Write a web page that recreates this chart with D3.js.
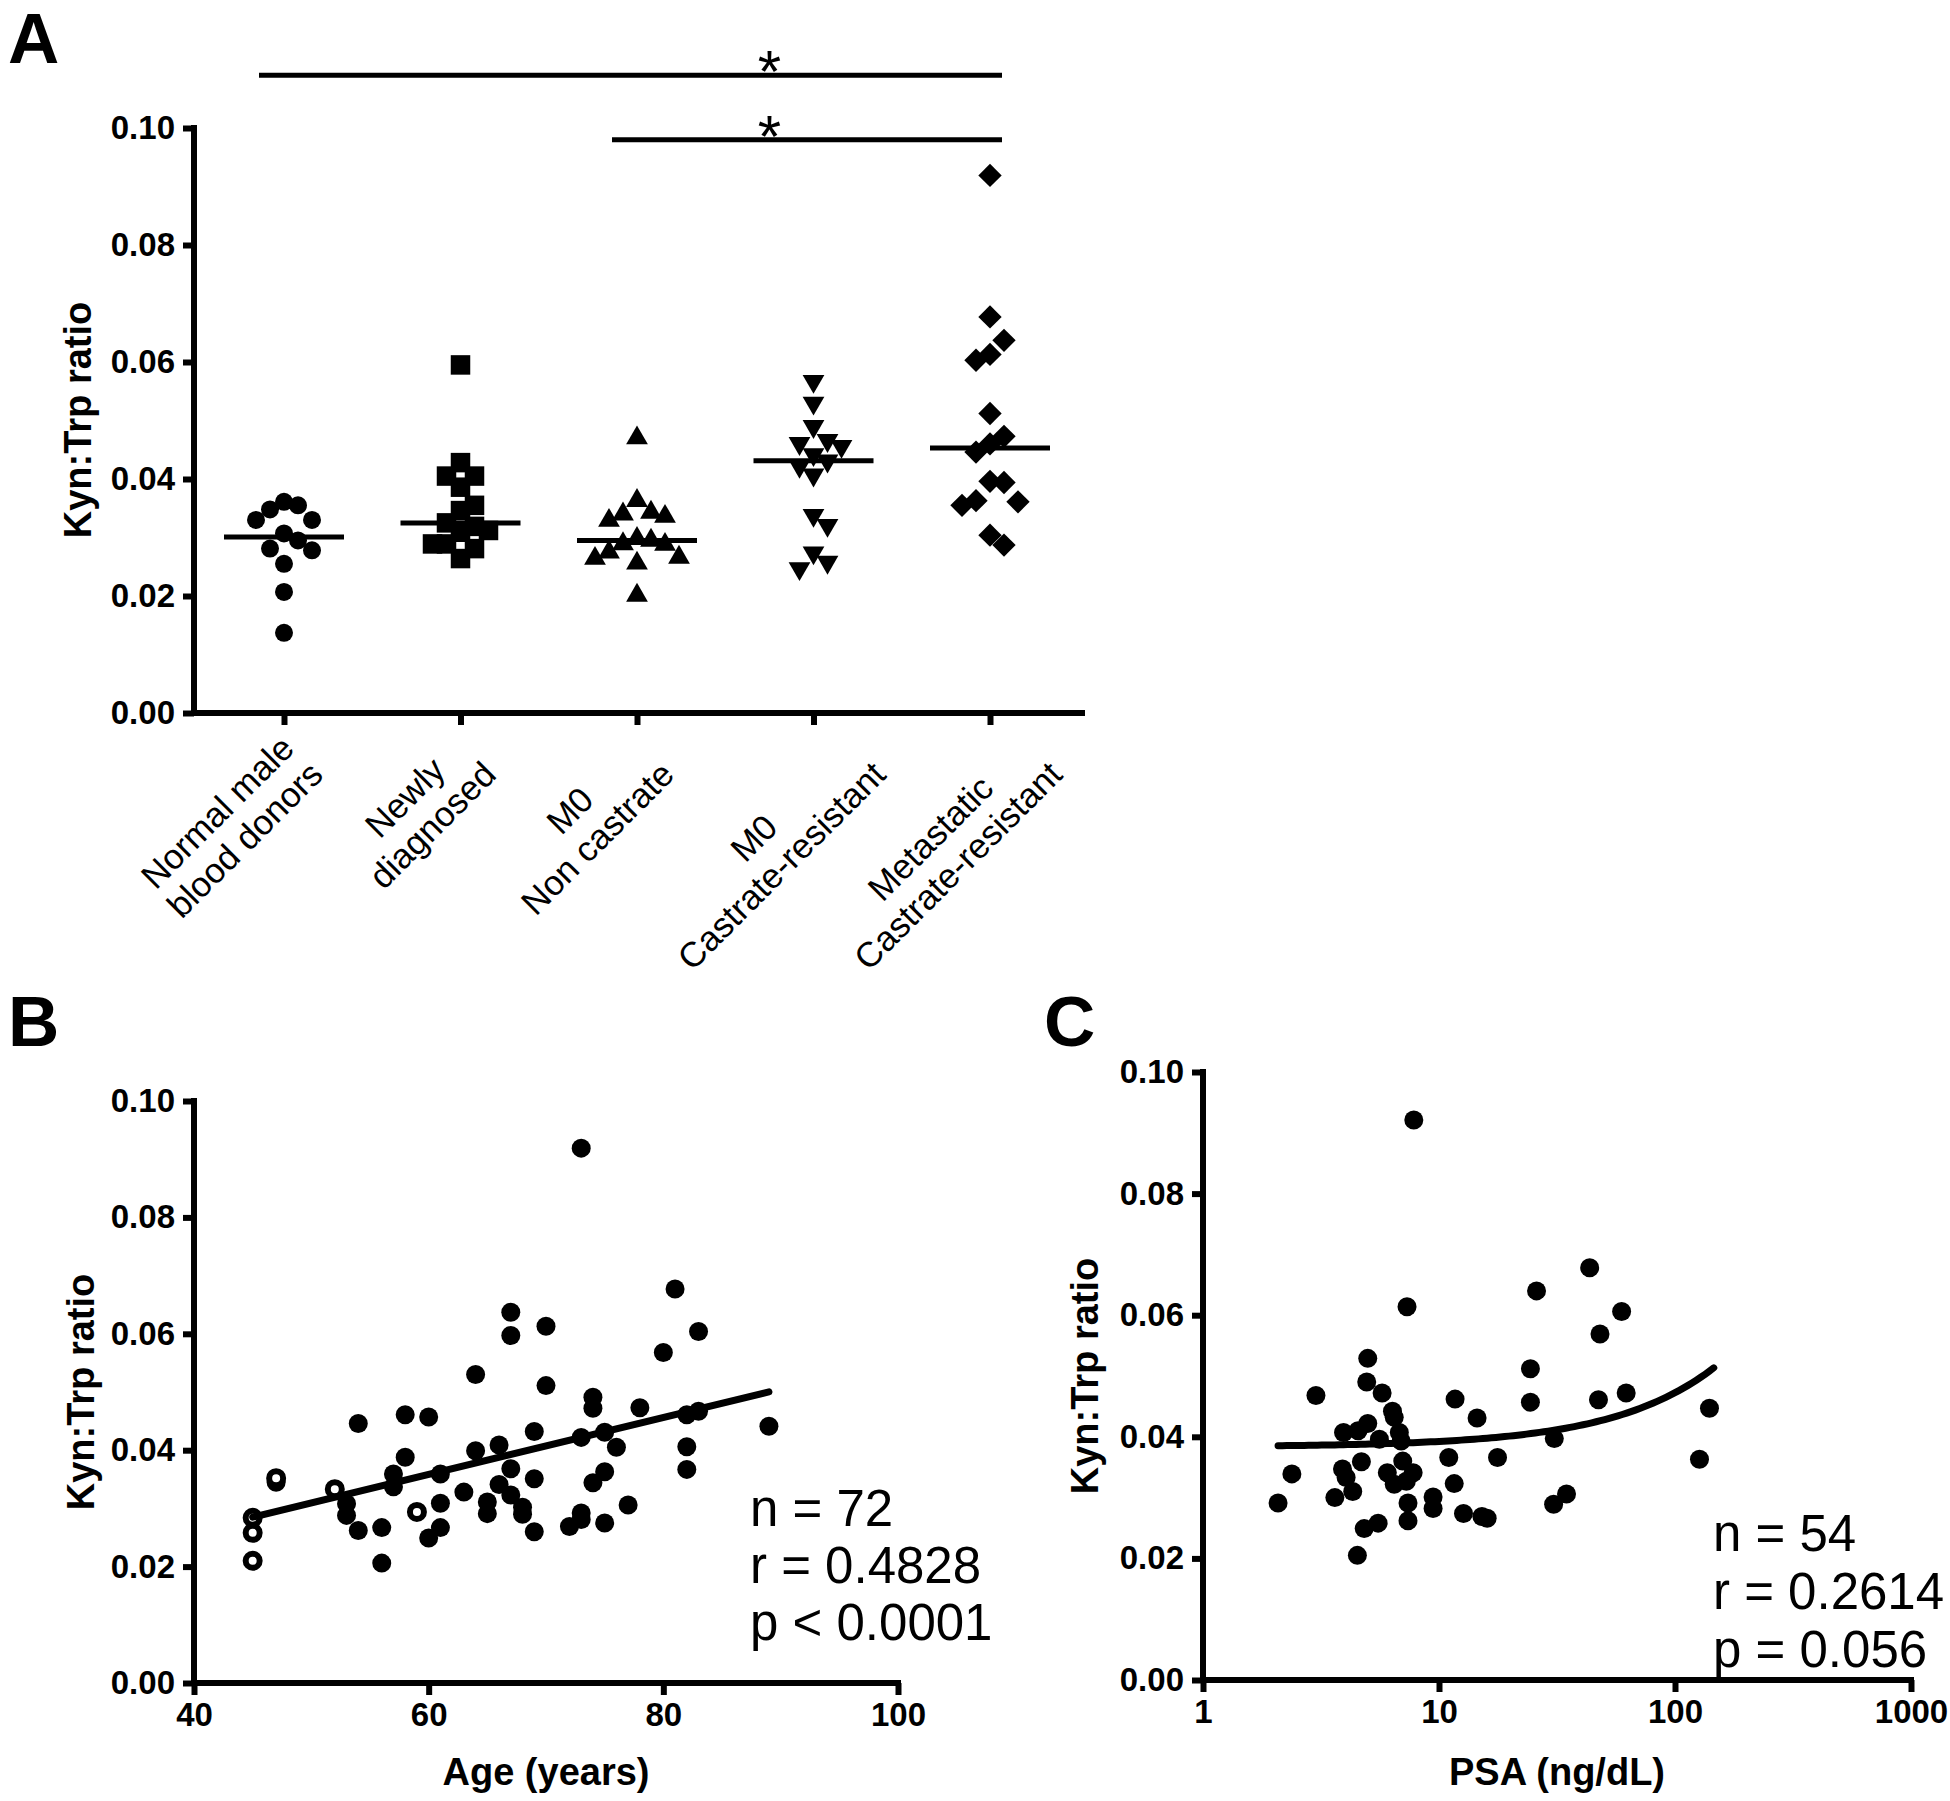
<!DOCTYPE html>
<html><head><meta charset="utf-8">
<script src="https://cdn.jsdelivr.net/npm/d3@7"></script>
<style>
body{margin:0;background:#fff;}
text{font-family:"Liberation Sans", Arial, Helvetica, sans-serif;fill:#000;}
</style></head><body>
<svg id="chart" width="1950" height="1801"></svg>
<script>
// ---------- Panel A data ----------
const categoriesA = [["Normal male","blood donors"],["Newly","diagnosed"],["M0","Non castrate"],["M0","Castrate-resistant"],["Metastatic","Castrate-resistant"]];
const normalDonors = [0.0361,0.0355,0.0348,0.0330,0.0330,0.0307,0.0295,0.0281,0.0278,0.0255,0.0207,0.0137];
const newlyDiagnosed = [0.0595,0.0428,0.0405,0.0405,0.0386,0.0355,0.0346,0.0325,0.0319,0.0312,0.0309,0.0289,0.0289,0.0281,0.0264];
const m0NonCastrate = [0.0470,0.0363,0.0340,0.0343,0.0329,0.0336,0.0289,0.0298,0.0288,0.0295,0.0275,0.0264,0.0256,0.0266,0.0201];
const m0CastrateResistant = [0.0567,0.0530,0.0490,0.0461,0.0456,0.0466,0.0442,0.0431,0.0422,0.0407,0.0338,0.0321,0.0274,0.0247,0.0258];
const metastaticCR = [0.0919,0.0677,0.0637,0.0603,0.0613,0.0512,0.0473,0.0460,0.0446,0.0394,0.0396,0.0361,0.0355,0.0363,0.0287,0.0304];
const seriesA = [normalDonors,newlyDiagnosed,m0NonCastrate,m0CastrateResistant,metastaticCR];
const symbolsA = ["circle","square","triangleUp","triangleDown","diamond"];
const sigBars = [{from:0,to:4,value:0.109,label:"*"},{from:2,to:4,value:0.098,label:"*"}];
const yTicks = [0,0.02,0.04,0.06,0.08,0.10];

// ---------- Panel B data ----------
const ageFilled = [73,81,67,67,70,83,80,64,70,74,74,78,54,58,60,89,82,83,69,73,75,76,82,82,66,64,58,57,57,61,67,69,75,74,63,66,67,61,65,65,68,68,77,73,72,73,75,69,61,60,53,54,56,56,53,47];
const ratioFilled = [0.0919,0.0677,0.0637,0.0597,0.0613,0.0604,0.0568,0.0530,0.0511,0.0491,0.0472,0.0473,0.0446,0.0461,0.0457,0.0441,0.0461,0.0467,0.0432,0.0422,0.0431,0.0405,0.0406,0.0367,0.0409,0.0399,0.0388,0.0359,0.0337,0.0359,0.0368,0.0351,0.0363,0.0344,0.0328,0.0341,0.0323,0.0309,0.0311,0.0291,0.0302,0.0290,0.0306,0.0292,0.0269,0.0281,0.0275,0.0260,0.0267,0.0249,0.0288,0.0262,0.0267,0.0206,0.0308,0.0345];
const ageOpen = [47,52,59,45,45,45];
const ratioOpen = [0.0352,0.0333,0.0294,0.0284,0.0258,0.0210];
const ageTicks = [40,60,80,100];
const fitB = {slope:0.000489, intercept:0.0065, from:45, to:89};
const statsB = ["n = 72","r = 0.4828","p < 0.0001"];

// ---------- Panel C data ----------
const psaC = [7.82,7.32,43.5,25.9,59.4,48.1,4.99,24.4,4.94,3.01,5.74,62.1,47.4,24.4,11.7,6.35,6.46,140,14.5,4.99,4.54,3.94,6.79,5.59,6.91,30.8,4.69,11.0,17.7,127,7.02,2.38,3.90,4.04,6.04,7.77,6.46,7.27,11.6,2.08,3.62,4.31,9.44,7.39,9.44,34.7,30.6,12.7,15.2,16.0,5.52,4.82,7.39,4.51];
const ratioC = [0.0921,0.0614,0.0678,0.0640,0.0606,0.0569,0.0529,0.0512,0.0490,0.0468,0.0472,0.0472,0.0461,0.0457,0.0462,0.0442,0.0432,0.0447,0.0431,0.0422,0.0410,0.0407,0.0407,0.0396,0.0393,0.0397,0.0359,0.0366,0.0366,0.0363,0.0360,0.0339,0.0347,0.0333,0.0341,0.0341,0.0322,0.0327,0.0323,0.0291,0.0300,0.0310,0.0301,0.0291,0.0282,0.0306,0.0289,0.0274,0.0269,0.0266,0.0258,0.0249,0.0262,0.0205];
const psaTicks = [1,10,100,1000];
const fitC = {slope:0.0000890, intercept:0.03835, from:2.08, to:146};
const statsC = ["n = 54","r = 0.2614","p = 0.056"];

// ---------- drawing ----------
const svg = d3.select("#chart");
const AXW = 6;

function styleAxis(g, fs){
  g.select(".domain").remove();
  g.selectAll(".tick line").attr("stroke","#000").attr("stroke-width",AXW);
  g.selectAll(".tick text").attr("font-size",fs).attr("font-weight","bold").attr("fill","#000")
   .style("font-family",'"Liberation Sans", Arial, sans-serif');
}
function axisLine(x1,y1,x2,y2){
  svg.append("line").attr("x1",x1).attr("y1",y1).attr("x2",x2).attr("y2",y2)
    .attr("stroke","#000").attr("stroke-width",AXW).attr("stroke-linecap","square");
}
function panelLetter(t,x,y){
  svg.append("text").attr("x",x).attr("y",y).attr("font-size",71).attr("font-weight","bold").text(t);
}
function yTitle(x,y){
  svg.append("text").attr("transform",`translate(${x},${y}) rotate(-90)`).attr("text-anchor","middle")
    .attr("dominant-baseline","central").attr("font-size",38).attr("font-weight","bold").text("Kyn:Trp ratio");
}

// ===== Panel A =====
const yA = d3.scaleLinear().domain([0,0.10]).range([713,128]);
const xA = d3.scalePoint().domain(d3.range(categoriesA.length)).range([284,990]);
panelLetter("A",8,63);
const gyA = svg.append("g").attr("transform","translate(194,0)")
  .call(d3.axisLeft(yA).tickValues(yTicks).tickFormat(d3.format(".2f")).tickSize(11).tickPadding(8));
styleAxis(gyA,33);
const gxA = svg.append("g").attr("transform","translate(0,713)")
  .call(d3.axisBottom(xA).tickSize(12).tickFormat(""));
styleAxis(gxA,33);
axisLine(194,128,194,713);
axisLine(194,713,1082,713);
yTitle(78,420);

function swarm(values, y, step, D){
  const order = d3.range(values.length).sort((a,b)=>values[b]-values[a]);
  const placed=[], off=new Array(values.length);
  for(const i of order){
    const py=y(values[i]);
    for(let k=0;;k++){
      const slot = k===0?0:(k%2?(k+1)/2:-k/2);
      if(!placed.some(p=>p.slot===slot && Math.abs(p.y-py)<D)){placed.push({slot,y:py});off[i]=slot*step;break;}
    }
  }
  return off;
}
const symGen = {
  circle: d3.symbol().type(d3.symbolCircle).size(Math.PI*9*9)(),
  square: d3.symbol().type(d3.symbolSquare).size(19.5*19.5)(),
  triangleUp: d3.symbol().type(d3.symbolTriangle).size(205)(),
  triangleDown: d3.symbol().type(d3.symbolTriangle).size(205)(),
  diamond: d3.symbol().type(d3.symbolSquare).size(16.5*16.5)()
};
const symRot = {circle:0,square:0,triangleUp:0,triangleDown:180,diamond:45};
const symD = {circle:20,square:20,triangleUp:20,triangleDown:20,diamond:24};
seriesA.forEach((vals,gi)=>{
  const sym = symbolsA[gi];
  const offs = swarm(vals,yA,14,symD[sym]);
  svg.append("g").selectAll("path").data(vals).join("path")
    .attr("d",symGen[sym])
    .attr("transform",(d,i)=>`translate(${xA(gi)+offs[i]},${yA(d)}) rotate(${symRot[sym]})`)
    .attr("fill","#000");
  const med = d3.median(vals);
  svg.append("line").attr("x1",xA(gi)-60).attr("x2",xA(gi)+60).attr("y1",yA(med)).attr("y2",yA(med))
    .attr("stroke","#000").attr("stroke-width",5);
});
// category labels
const stepA = xA.step();
categoriesA.forEach((lines,i)=>{
  const g = svg.append("g");
  const ts = lines.map((t,j)=>g.append("text").attr("y",j*39).attr("font-size",35).attr("text-anchor","middle").text(t));
  const W = d3.max(ts,t=>t.node().getComputedTextLength());
  ts.forEach(t=>t.attr("x",-W/2));
  const shift = Math.max(0,0.45*(W-195));
  g.attr("transform",`translate(${xA(i)+10+shift},${713+36}) rotate(-45)`);
});
// significance bars
sigBars.forEach(b=>{
  const x1 = xA(b.from)-25, x2 = xA(b.to)+12, yy = yA(b.value);
  svg.append("line").attr("x1",x1).attr("x2",x2).attr("y1",yy).attr("y2",yy).attr("stroke","#000").attr("stroke-width",5);
  svg.append("text").attr("x",xA(3)-stepA*0.25).attr("y",yy+17).attr("text-anchor","middle")
    .attr("font-size",60).text(b.label);
});

// ===== Panel B =====
const xB = d3.scaleLinear().domain([40,100]).range([194,898]);
const yB = d3.scaleLinear().domain([0,0.10]).range([1683,1101]);
panelLetter("B",8,1046);
const gyB = svg.append("g").attr("transform","translate(194,0)")
  .call(d3.axisLeft(yB).tickValues(yTicks).tickFormat(d3.format(".2f")).tickSize(11).tickPadding(8));
styleAxis(gyB,33);
const gxB = svg.append("g").attr("transform","translate(0,1683)")
  .call(d3.axisBottom(xB).tickValues(ageTicks).tickFormat(d3.format("d")).tickSize(12).tickPadding(8));
styleAxis(gxB,33);
axisLine(194,1101,194,1683);
axisLine(194,1683,898,1683);
yTitle(81,1392);
svg.append("text").attr("x",546).attr("y",1785).attr("text-anchor","middle").attr("font-size",38).attr("font-weight","bold").text("Age (years)");
svg.append("g").selectAll("circle").data(ageFilled).join("circle")
  .attr("cx",d=>xB(d)).attr("cy",(d,i)=>yB(ratioFilled[i])).attr("r",9.5).attr("fill","#000");
svg.append("g").selectAll("circle").data(ageOpen).join("circle")
  .attr("cx",d=>xB(d)).attr("cy",(d,i)=>yB(ratioOpen[i])).attr("r",7).attr("fill","#fff").attr("stroke","#000").attr("stroke-width",6);
svg.append("line").attr("x1",xB(fitB.from)).attr("x2",xB(fitB.to))
  .attr("y1",yB(fitB.intercept+fitB.slope*fitB.from)).attr("y2",yB(fitB.intercept+fitB.slope*fitB.to))
  .attr("stroke","#000").attr("stroke-width",7).attr("stroke-linecap","round");
statsB.forEach((t,i)=>svg.append("text").attr("x",750).attr("y",1526+i*57).attr("font-size",51).text(t));

// ===== Panel C =====
const xC = d3.scaleLog().domain([1,1000]).range([1203,1911]);
const yC = d3.scaleLinear().domain([0,0.10]).range([1680,1072]);
panelLetter("C",1044,1046);
const gyC = svg.append("g").attr("transform","translate(1203,0)")
  .call(d3.axisLeft(yC).tickValues(yTicks).tickFormat(d3.format(".2f")).tickSize(11).tickPadding(8));
styleAxis(gyC,33);
const gxC = svg.append("g").attr("transform","translate(0,1680)")
  .call(d3.axisBottom(xC).tickValues(psaTicks).tickFormat(d3.format("d")).tickSize(12).tickPadding(8));
styleAxis(gxC,33);
axisLine(1203,1072,1203,1680);
axisLine(1203,1680,1911,1680);
yTitle(1085,1376);
svg.append("text").attr("x",1557).attr("y",1785).attr("text-anchor","middle").attr("font-size",38).attr("font-weight","bold").text("PSA (ng/dL)");
svg.append("g").selectAll("circle").data(psaC).join("circle")
  .attr("cx",d=>xC(d)).attr("cy",(d,i)=>yC(ratioC[i])).attr("r",9.5).attr("fill","#000");
const fitPts = d3.range(0,101).map(k=>{const lx=Math.log10(fitC.from)+(Math.log10(fitC.to)-Math.log10(fitC.from))*k/100;const p=Math.pow(10,lx);return [p,fitC.intercept+fitC.slope*p];});
svg.append("path").attr("d",d3.line().x(d=>xC(d[0])).y(d=>yC(d[1]))(fitPts))
  .attr("fill","none").attr("stroke","#000").attr("stroke-width",7).attr("stroke-linecap","round");
statsC.forEach((t,i)=>svg.append("text").attr("x",1713).attr("y",1551+i*58).attr("font-size",51).text(t));
</script>
</body></html>
